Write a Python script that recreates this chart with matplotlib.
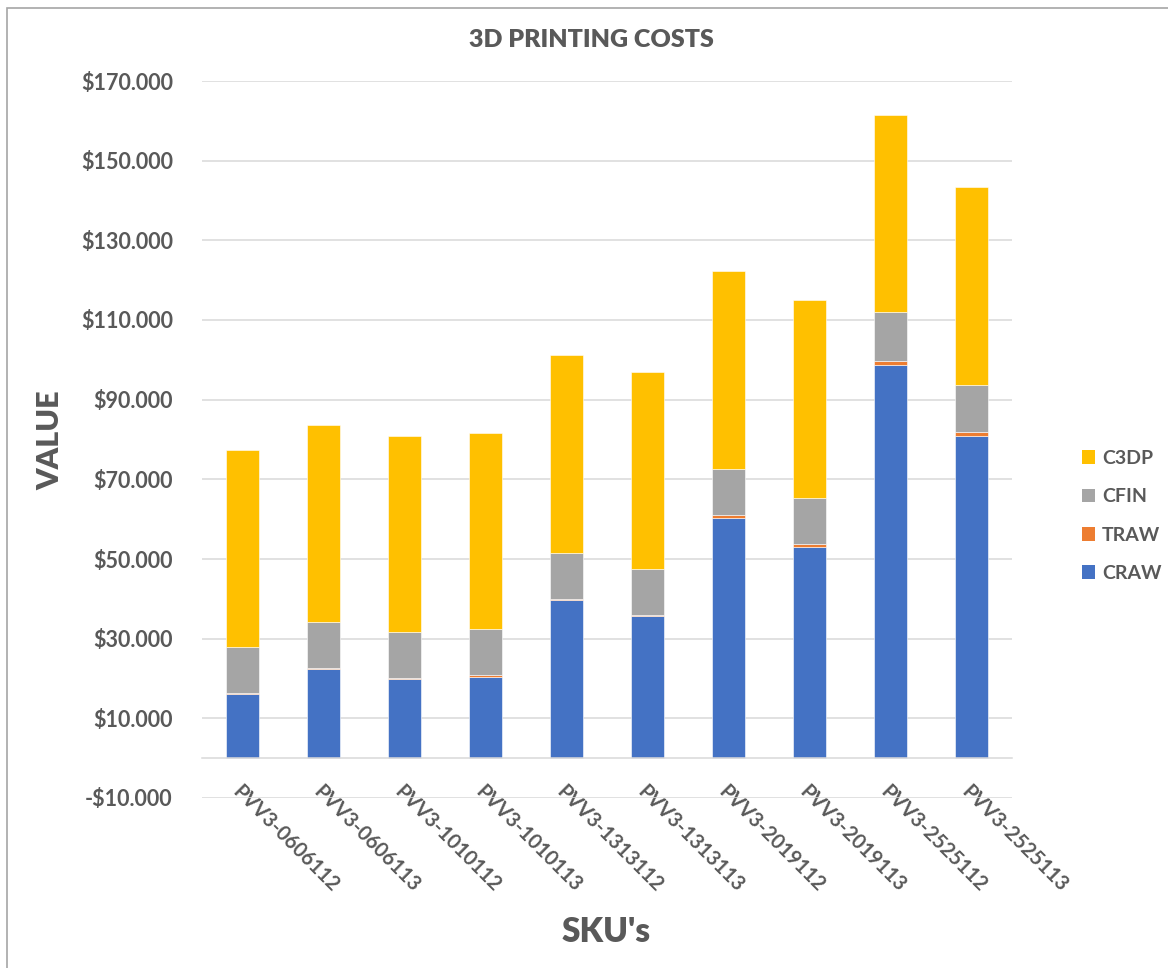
import matplotlib
matplotlib.use("Agg")
import matplotlib.pyplot as plt
from matplotlib.patches import Rectangle, Patch
from matplotlib.ticker import FuncFormatter

plt.rcParams['font.family'] = ['Lato', 'DejaVu Sans']

skus = ["PVV3-0606112", "PVV3-0606113", "PVV3-1010112", "PVV3-1010113",
        "PVV3-1313112", "PVV3-1313113", "PVV3-2019112", "PVV3-2019113",
        "PVV3-2525112", "PVV3-2525113"]
craw = [16.1, 22.4, 19.9, 20.5, 39.6, 35.6, 60.3, 53.1, 98.8, 80.9]
traw = [0.3, 0.3, 0.3, 0.3, 0.4, 0.3, 0.7, 0.6, 0.8, 1.0]
cfin = [11.5, 11.6, 11.55, 11.7, 11.6, 11.6, 11.7, 11.6, 12.4, 11.8]
c3dp = [49.35, 49.4, 49.25, 49.25, 49.65, 49.5, 49.55, 49.8, 49.5, 49.6]
y_ticks = list(range(-10, 171, 20))

series = [("CRAW", craw, "#4472C4"), ("TRAW", traw, "#ED7D31"),
          ("CFIN", cfin, "#A5A5A5"), ("C3DP", c3dp, "#FFC000")]

TEXT = "#595959"
GRID = "#D9D9D9"

fig = plt.figure(figsize=(11.68, 9.68), dpi=100)
ax = fig.add_axes([202 / 1168, 1 - 798 / 968, 810 / 1168, 717 / 968])

x = list(range(len(skus)))
bottom = [0.0] * len(skus)
for name, vals, col in series:
    ax.bar(x, vals, width=0.4, bottom=bottom, color=col, label=name,
           edgecolor="white", linewidth=0.4, zorder=3)
    bottom = [b + v for b, v in zip(bottom, vals)]

ax.set_ylim(-10, 170)
ax.set_xlim(-0.5, len(skus) - 0.5)
ax.set_yticks(y_ticks)


def money(v, pos):
    return f"-${abs(v):.3f}" if v < 0 else f"${v:.3f}"


ax.yaxis.set_major_formatter(FuncFormatter(money))
ax.grid(axis="y", color=GRID, linewidth=1.1, zorder=0)
for s in ("top", "right", "left"):
    ax.spines[s].set_visible(False)
ax.spines["bottom"].set_position(("data", 0))
ax.spines["bottom"].set_color(GRID)
ax.spines["bottom"].set_linewidth(1.1)
ax.spines["bottom"].set_zorder(4)
ax.tick_params(axis="both", length=0, colors=TEXT)
ax.tick_params(axis="y", pad=21, labelsize=15.5)
ax.tick_params(axis="x", pad=17, labelsize=14.5)
ax.set_xticks(x)
ax.set_xticklabels(skus, rotation=-45, ha="left", va="top",
                   rotation_mode="anchor", fontweight="bold", color=TEXT)
for lab in ax.get_yticklabels():
    lab.set_fontweight("bold")
    lab.set_color(TEXT)

fig.text(591 / 1168, 1 - 40 / 968, "3D PRINTING COSTS", ha="center",
         va="center", fontsize=18, fontweight="heavy", color=TEXT)
fig.text(50 / 1168, 1 - 440 / 968, "VALUE", ha="center", va="center",
         rotation=90, fontsize=22, fontweight="heavy", color=TEXT)
fig.text(606 / 1168, 1 - 932 / 968, "SKU's", ha="center", va="center",
         fontsize=24, fontweight="heavy", color=TEXT)

handles = [Patch(facecolor=c, label=n) for n, v, c in reversed(series)]
leg = fig.legend(handles=handles, loc="center left",
                 bbox_to_anchor=(1068 / 1168, 1 - 516 / 968), frameon=False,
                 handlelength=0.7, handleheight=0.7, handletextpad=0.35,
                 labelspacing=1.1, borderpad=0.2,
                 prop={"size": 14, "weight": "bold"})
for t in leg.get_texts():
    t.set_color(TEXT)

fig.patches.append(Rectangle((7 / 1168, -0.05), 1.2, 0.05 + 1 - 8 / 968,
                             transform=fig.transFigure, fill=False,
                             edgecolor="#A6A6A6", linewidth=1.2))

fig.savefig("out.png", dpi=100, facecolor="white")
